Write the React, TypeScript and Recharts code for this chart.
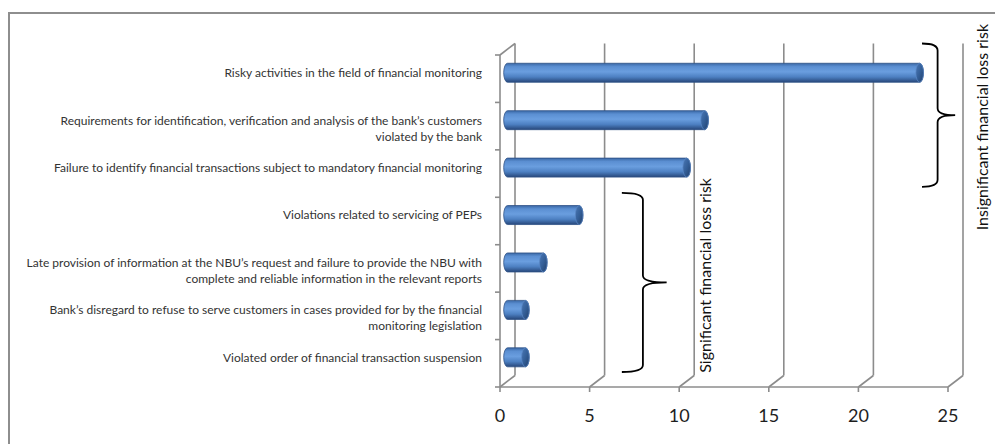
import React from 'react';
import { BarChart, Bar, XAxis, YAxis, CartesianGrid, ReferenceArea } from 'recharts';

// Violation categories (top to bottom) and their counts
const categories: string[] = [
  'Risky activities in the field of financial monitoring',
  'Requirements for identification, verification and analysis of the bank\u2019s customers\nviolated by the bank',
  'Failure to identify financial transactions subject to mandatory financial monitoring',
  'Violations related to servicing of PEPs',
  'Late provision of information at the NBU\u2019s request and failure to provide the NBU with\ncomplete and reliable information in the relevant reports',
  'Bank\u2019s disregard to refuse to serve customers in cases provided for by the financial\nmonitoring legislation',
  'Violated order of financial transaction suspension',
];
const values: number[] = [23, 11, 10, 4, 2, 1, 1];
const xTicks: number[] = [0, 5, 10, 15, 20, 25];

// Risk groups: label and the first/last category each brace spans
const groupLabels: string[] = ['Insignificant financial loss risk', 'Significant financial loss risk'];
const groupFirst: number[] = [0, 3];
const groupLast: number[] = [2, 6];

const data = categories.map((name, i) => ({ name, value: values[i] }));

// Layout
const W = 995;
const H = 444;
const MARGIN = { top: 55, right: 47, bottom: 17, left: 10 };
const Y_AXIS_W = 490;
const X_AXIS_H = 40;
const AXIS_X = MARGIN.left + Y_AXIS_W;
const PLOT_H = H - MARGIN.top - MARGIN.bottom - X_AXIS_H;
const BAND = PLOT_H / categories.length;

// Pseudo-3D depth offset of the back wall
const DX = 15;
const DY = 11.5;

const GRID = '#8c8c8c';
const FONT = 'Lato, "Open Sans", sans-serif';

// Brace placement (x range in axis units, vertical insets, label offset)
const BRACE_LAYOUT = [
  { x1: 23.55, x2: 25.4, insetTop: 0, insetBottom: -1, labelDx: 26, labelDy: 12 },
  { x1: 6.8, x2: 9.3, insetTop: 7, insetBottom: 3.5, labelDx: 38, labelDy: -7 },
];

const renderGridLine = (p: any) => {
  const { x1, y1, y2, index } = p;
  return (
    <g key={`grid-${index}`}>
      <line x1={x1 + DX} y1={y1 - DY} x2={x1 + DX} y2={y2 - DY} stroke={GRID} strokeWidth={1.6} />
      <line x1={x1} y1={y2} x2={x1 + DX} y2={y2 - DY} stroke={GRID} strokeWidth={1.6} />
      {index === 0 && (
        <line x1={x1} y1={y1} x2={x1 + DX} y2={y1 - DY} stroke={GRID} strokeWidth={1.6} />
      )}
    </g>
  );
};

const CategoryTick = (props: any) => {
  const { x, y, payload, index } = props;
  const lines = String(payload.value).split('\n');
  const cy = y - DY / 2;
  return (
    <g>
      <line x1={AXIS_X - 5} x2={AXIS_X} y1={y - BAND / 2} y2={y - BAND / 2} stroke={GRID} strokeWidth={1.6} />
      {index === categories.length - 1 && (
        <line x1={AXIS_X - 5} x2={AXIS_X} y1={y + BAND / 2} y2={y + BAND / 2} stroke={GRID} strokeWidth={1.6} />
      )}
      <text x={x} y={cy} textAnchor="end" fontFamily={FONT} fontSize={12} fill="#333">
        {lines.map((l, i) => (
          <tspan key={i} x={x} dy={i === 0 ? '0.35em' : 16}>
            {l}
          </tspan>
        ))}
      </text>
    </g>
  );
};

// Cylinder-shaped bar sitting halfway into the depth
const CylinderBar = (props: any) => {
  const { x, y, width, height, index } = props;
  if (width == null || height == null) return null;
  const r = height / 2;
  const rx = 3.8;
  const cx0 = x + DX / 2;
  const cx1 = x + width + DX / 2;
  const cy = y + r - DY / 2;
  const bodyId = `cyl-body-${index}`;
  const capId = `cyl-cap-${index}`;
  const d = `M${cx0},${cy - r} L${cx1},${cy - r} A${rx},${r} 0 0 1 ${cx1},${cy + r} L${cx0},${cy + r} A${rx},${r} 0 0 1 ${cx0},${cy - r} Z`;
  return (
    <g>
      <defs>
        <linearGradient id={bodyId} x1="0" y1="0" x2="0" y2="1">
          <stop offset="0" stopColor="#3a68a6" />
          <stop offset="0.18" stopColor="#5b8fd2" />
          <stop offset="0.45" stopColor="#6a9edf" />
          <stop offset="0.72" stopColor="#4d80c2" />
          <stop offset="1" stopColor="#27477a" />
        </linearGradient>
        <linearGradient id={capId} x1="0" y1="0" x2="1" y2="1">
          <stop offset="0" stopColor="#4a78b6" />
          <stop offset="0.5" stopColor="#345f98" />
          <stop offset="1" stopColor="#22406c" />
        </linearGradient>
      </defs>
      <path d={d} fill={`url(#${bodyId})`} stroke="#2e5286" strokeWidth={0.8} />
      <ellipse cx={cx1} cy={cy} rx={rx} ry={r} fill={`url(#${capId})`} stroke="#5a87c4" strokeWidth={0.7} />
    </g>
  );
};

const makeBrace = (i: number) => (p: any) => {
  const { x, y, width, height } = p;
  const lay = BRACE_LAYOUT[i];
  const L = x;
  const R = x + width;
  const T = y - DY + lay.insetTop;
  const B = y + height - DY - lay.insetBottom;
  const M = (T + B) / 2;
  const V = L + width * 0.47;
  const r = 7;
  const d =
    `M${L},${T} Q${V},${T} ${V},${T + r} L${V},${M - r} Q${V},${M} ${R},${M} ` +
    `Q${V},${M} ${V},${M + r} L${V},${B - r} Q${V},${B} ${L},${B}`;
  const tx = R + lay.labelDx;
  const ty = M + lay.labelDy;
  return (
    <g>
      <path d={d} fill="none" stroke="#000" strokeWidth={1.8} />
      <text
        x={tx}
        y={ty}
        transform={`rotate(-90, ${tx}, ${ty})`}
        textAnchor="middle"
        dominantBaseline="central"
        fontFamily={FONT}
        fontSize={16}
        fill="#111"
      >
        {groupLabels[i]}
      </text>
    </g>
  );
};

export default function App() {
  return (
    <div style={{ position: 'fixed', left: 0, top: 0, width: W, height: H, background: '#fff', overflow: 'hidden' }}>
      <div
        style={{
          position: 'absolute',
          left: 8,
          top: 12,
          width: 1100,
          height: 600,
          borderTop: '2px solid #8e8e8e',
          borderLeft: '2px solid #8e8e8e',
        }}
      />
      <div style={{ position: 'absolute', left: 0, top: 0 }}>
        <BarChart width={W} height={H} data={data} layout="vertical" margin={MARGIN}>
          <CartesianGrid horizontal={false} vertical={renderGridLine} />
          <XAxis
            type="number"
            domain={[0, 25]}
            ticks={xTicks}
            height={X_AXIS_H}
            axisLine={{ stroke: GRID, strokeWidth: 1.6 }}
            tickLine={{ stroke: GRID, strokeWidth: 1.6 }}
            tickSize={5}
            tickMargin={17}
            tick={{ fontSize: 18, fill: '#1e1e1e', fontFamily: FONT }}
            interval={0}
          />
          <YAxis
            type="category"
            dataKey="name"
            width={Y_AXIS_W}
            axisLine={{ stroke: GRID, strokeWidth: 1.6 }}
            tickLine={false}
            tickSize={0}
            tickMargin={18}
            tick={<CategoryTick />}
            interval={0}
          />
          <Bar dataKey="value" barSize={19} shape={<CylinderBar />} isAnimationActive={false} />
          {groupLabels.map((label, i) => (
            <ReferenceArea
              key={label}
              x1={BRACE_LAYOUT[i].x1}
              x2={BRACE_LAYOUT[i].x2}
              y1={categories[groupFirst[i]]}
              y2={categories[groupLast[i]]}
              ifOverflow="visible"
              shape={makeBrace(i)}
            />
          ))}
        </BarChart>
      </div>
    </div>
  );
}
